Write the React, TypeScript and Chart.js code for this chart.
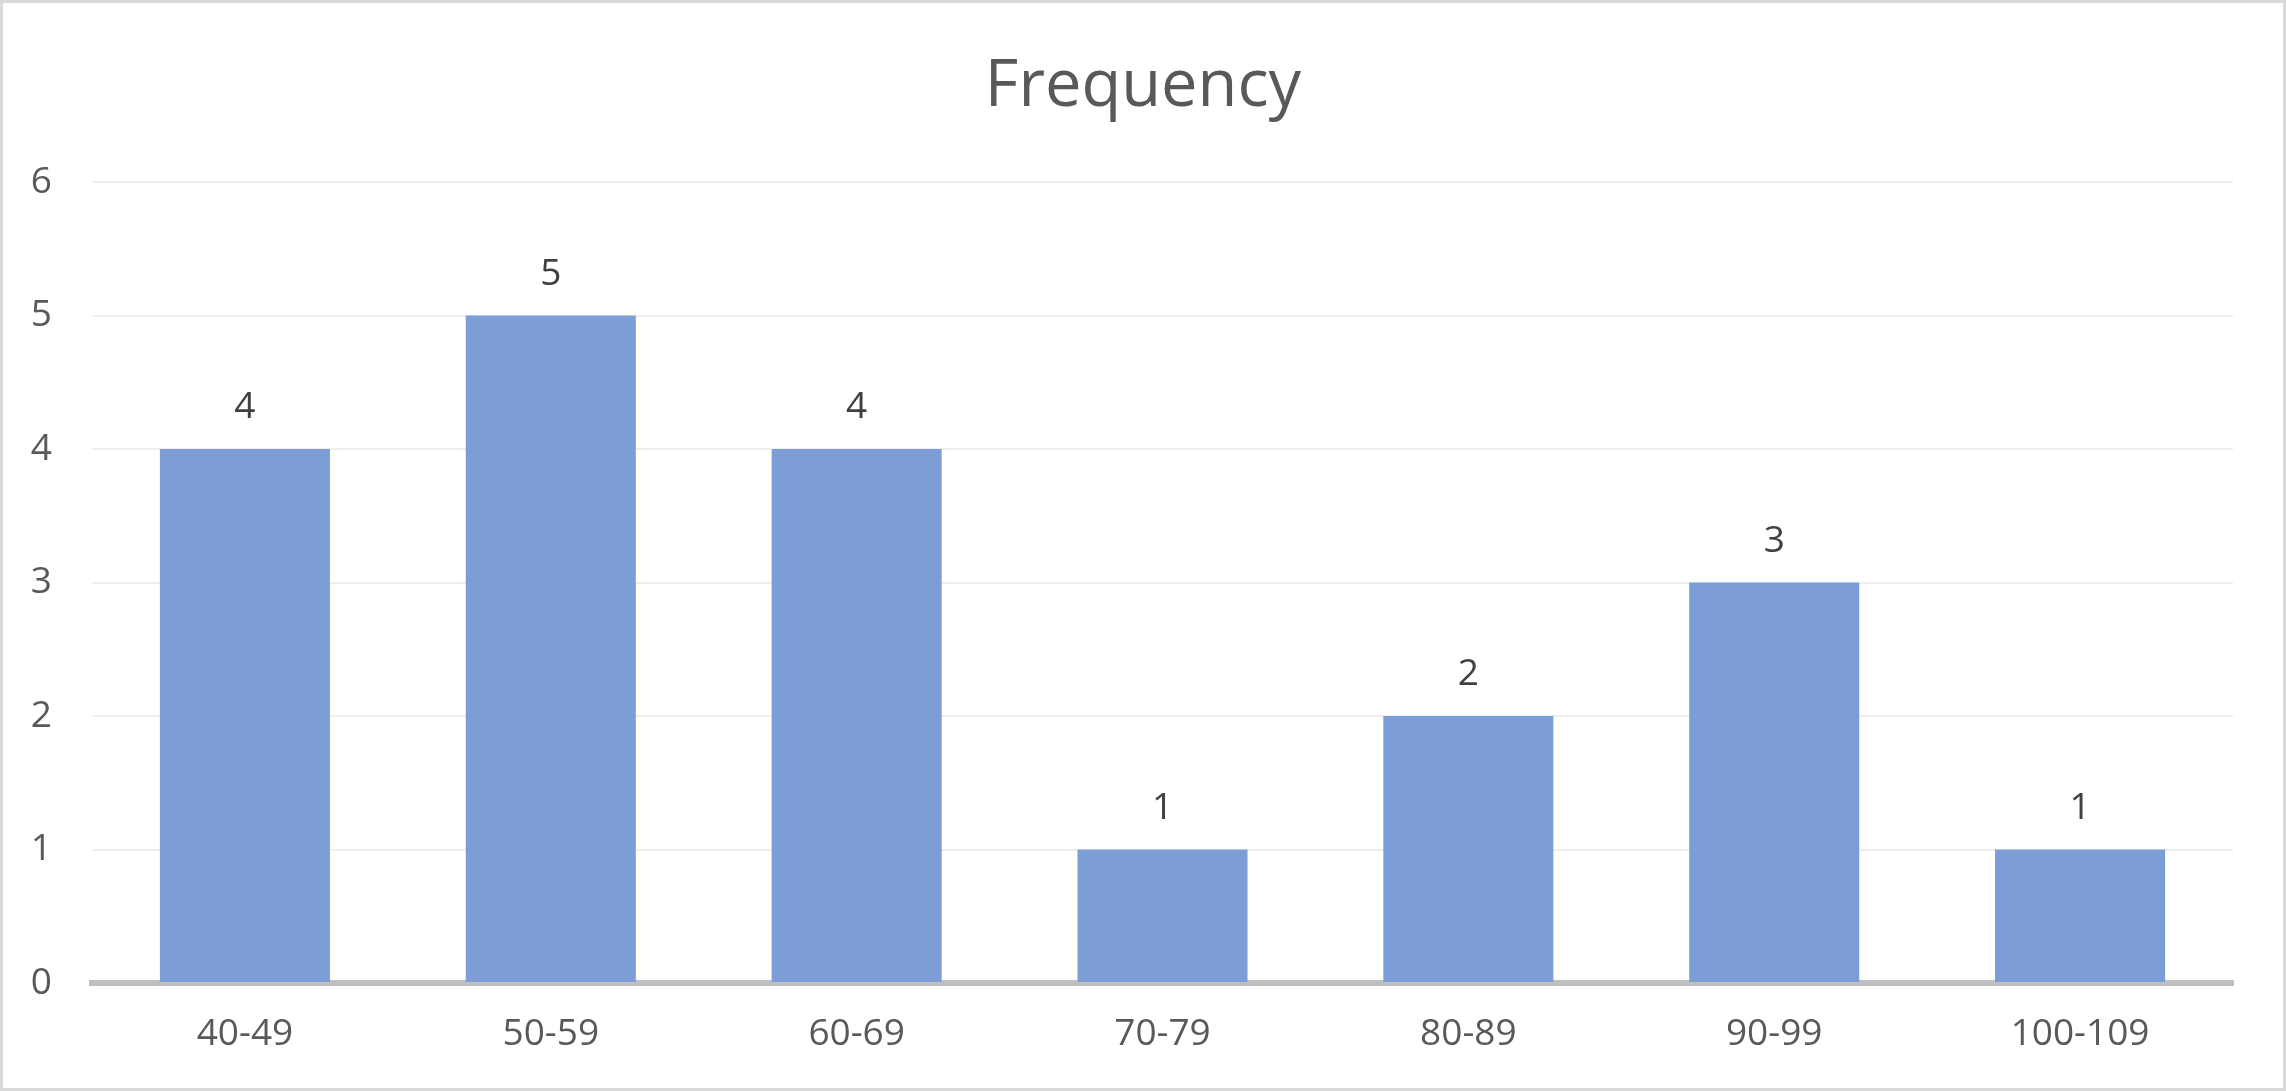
import React, { useEffect, useRef } from "react";
import { Chart, registerables } from "chart.js";

Chart.register(...registerables);

const chartTitle = "Frequency";
const categories = ["40-49", "50-59", "60-69", "70-79", "80-89", "90-99", "100-109"];
const frequencies = [4, 5, 4, 1, 2, 3, 1];
const yMin = 0;
const yMax = 6;
const yStep = 1;

const valueLabels = {
  id: "valueLabels",
  afterDatasetsDraw(chart: any) {
    const ctx = chart.ctx;
    const meta = chart.getDatasetMeta(0);
    const data = chart.data.datasets[0].data;
    ctx.save();
    ctx.font = "37px 'Open Sans'";
    ctx.fillStyle = "#404040";
    ctx.textAlign = "center";
    ctx.textBaseline = "alphabetic";
    meta.data.forEach((el: any, i: number) => {
      ctx.fillText(String(data[i]), el.x, el.y - 31);
    });
    ctx.restore();
  },
};

export default function App() {
  const ref = useRef<HTMLCanvasElement | null>(null);

  useEffect(() => {
    if (!ref.current) return;
    const chart = new Chart(ref.current, {
      type: "bar",
      data: {
        labels: categories,
        datasets: [
          {
            label: chartTitle,
            data: frequencies,
            backgroundColor: "#7C9DD5",
            borderWidth: 0,
            barPercentage: 1,
            categoryPercentage: 0.556,
          },
        ],
      },
      options: {
        animation: false,
        responsive: false,
        devicePixelRatio: 1,
        layout: { padding: 0 },
        plugins: {
          legend: { display: false },
          tooltip: { enabled: false },
          title: {
            display: true,
            text: chartTitle,
            color: "#595959",
            font: { family: "'Open Sans'", size: 65, weight: "400", lineHeight: 1.2 },
            padding: { top: 45, bottom: 56 },
          },
        },
        scales: {
          x: {
            grid: { display: false, drawTicks: false, tickLength: 0 },
            border: { display: true, color: "#BFBFBF", width: 6 },
            ticks: {
              color: "#595959",
              font: { family: "'Open Sans'", size: 37, lineHeight: 1.2 },
              padding: 29,
              maxRotation: 0,
              autoSkip: false,
            },
            afterFit(scale: any) {
              scale.height = 105;
            },
          },
          y: {
            min: yMin,
            max: yMax,
            grid: { color: "#EEEEEE", lineWidth: 2, drawTicks: false, tickLength: 0 },
            border: { display: false },
            ticks: {
              stepSize: yStep,
              color: "#595959",
              font: { family: "'Open Sans'", size: 37, lineHeight: 1.2 },
              padding: 40,
            },
            afterFit(scale: any) {
              scale.width = 89;
            },
          },
          spacer: {
            type: "linear",
            position: "right",
            min: yMin,
            max: yMax,
            grid: { display: false, drawTicks: false },
            border: { display: false },
            ticks: { display: false },
            afterFit(scale: any) {
              scale.width = 50;
            },
          },
        },
      },
      plugins: [valueLabels],
    });
    return () => chart.destroy();
  }, []);

  return (
    <div
      style={{
        position: "absolute",
        left: 0,
        top: 0,
        width: 2286,
        height: 1091,
        boxSizing: "border-box",
        border: "3px solid #D9D9D9",
        background: "#FFFFFF",
      }}
    >
      <canvas ref={ref} width={2280} height={1085} style={{ display: "block", width: 2280, height: 1085 }} />
    </div>
  );
}
